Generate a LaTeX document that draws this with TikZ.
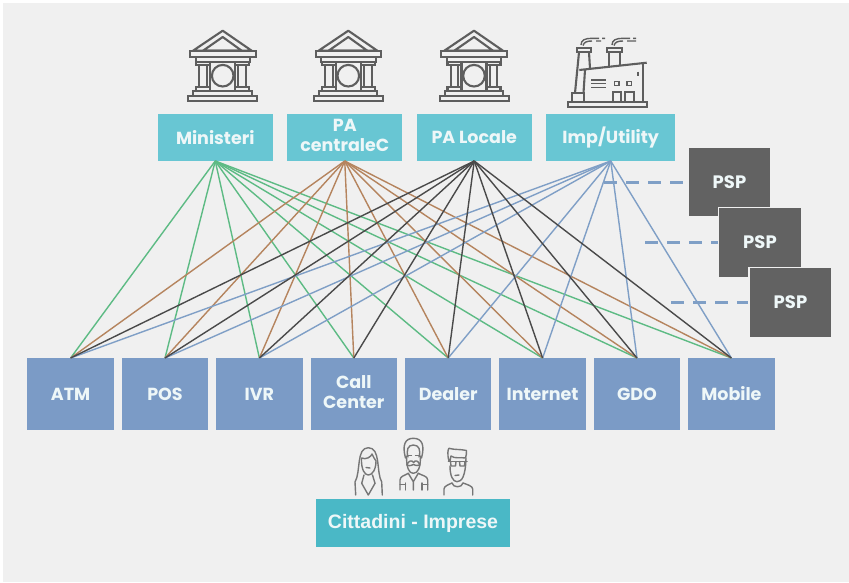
\documentclass[tikz,border=0pt]{standalone}
\usepackage{fontspec}
\setmainfont{Poppins}
\newfontfamily\citfont{Liberation Sans}
\usepackage{tikz}
\usetikzlibrary{matrix,positioning}

\definecolor{sfondo}{HTML}{F0F0F0}
\definecolor{ente}{HTML}{68C6D3}
\definecolor{canale}{HTML}{7B9BC6}
\definecolor{scuro}{HTML}{626262}
\definecolor{cit}{HTML}{4AB8C6}
\definecolor{verde}{HTML}{5DBB84}
\definecolor{marrone}{HTML}{B5845E}
\definecolor{nero}{HTML}{4A4A4A}
\definecolor{azzurro}{HTML}{7F9FC6}
\definecolor{icona}{HTML}{5E5E5E}
\definecolor{testo}{HTML}{EEF7F8}

\newcommand{\duerighe}[2]{\begin{tabular}{@{}c@{}}#1\\#2\end{tabular}}

\tikzset{
  ente/.style={fill=ente,text=testo,font=\bfseries\fontsize{17.5}{20.5}\selectfont,minimum height=47pt,inner sep=0pt,outer sep=0pt,anchor=center},
  canale/.style={fill=canale,text=testo,font=\bfseries\fontsize{17.5}{20}\selectfont,minimum width=86.5pt,minimum height=72pt,inner sep=0pt,outer sep=0pt,anchor=center},
  psp/.style={fill=scuro,draw=sfondo,line width=1.5pt,text=testo,font=\bfseries\fontsize{18}{20}\selectfont,minimum width=83pt,minimum height=70pt,inner sep=0pt},
  filo/.style={line width=1.4pt},
  tratto/.style={draw=azzurro,line width=3pt,dash pattern=on 13pt off 9pt},
  segno/.style={draw=icona,line width=2.1pt},
  volto/.style={draw=icona!85,line width=1.4pt,line cap=round,line join=round},
  tempio/.pic={
    \draw[segno,line join=round] (0,-34.3) -- (-29.7,-14.3) -- (29,-14.3) -- cycle;
    \draw[segno,line join=round] (0,-28) -- (-19.7,-14.3) -- (19,-14.3) -- cycle;
    \draw[segno] (-32.7,-14.3) rectangle (33,-7.7);
    \draw[segno] (-27,-7.7) -- (-27,-3.3) -- (27.3,-3.3) -- (27.3,-7.7);
    \foreach \x in {-19.5,19.5}{
      \draw[segno] (\x-7,-3.3) rectangle (\x+7,0);
      \draw[segno] (\x-3.8,0) rectangle (\x+3.8,21.7);
      \draw[segno] (\x-7,21.7) rectangle (\x+7,26);
    }
    \draw[segno] (0,10.7) circle (10.8);
    \draw[segno] (-12.5,-3.3) -- (-12.5,26);
    \draw[segno] (12.5,-3.3) -- (12.5,26);
    \draw[segno] (-29.4,31) -- (-29.4,26) -- (29,26) -- (29,31);
    \draw[segno] (-34.4,31) rectangle (34.6,35.7);
  }
}

\begin{document}
\begin{tikzpicture}[x=1pt,y=-1pt]
\useasboundingbox (0,0) rectangle (849,582);
\fill[sfondo] (3,3) rectangle (849,582);

\matrix (m) at (416.5,137.5) [matrix of nodes,column sep=14.5pt,inner sep=0pt,outer sep=0pt,nodes={ente}]
{
  |[minimum width=115pt]| Ministeri & |[minimum width=115pt]| \duerighe{PA}{centraleC} & |[minimum width=115pt]| PA Locale & |[minimum width=129pt]| Imp/Utility \\
};
\matrix (c) at (401,394) [matrix of nodes,column sep=7.9pt,inner sep=0pt,outer sep=0pt,nodes={canale}]
{
  ATM & POS & IVR & \duerighe{Call}{Center} & Dealer & Internet & GDO & Mobile \\
};

% fili enti - canali
\foreach \i in {1,...,8} \draw[filo,verde] (m-1-1.south) -- (c-1-\i.north);
\foreach \i in {1,...,8} \draw[filo,marrone] (m-1-2.south) -- (c-1-\i.north);
\foreach \i in {1,2,3,5,6,7,8} \draw[filo,azzurro] (m-1-4.south) -- (c-1-\i.north);
\foreach \i in {1,...,8} \draw[filo,nero] (m-1-3.south) -- (c-1-\i.north);

\coordinate (d1) at (604,182);
\coordinate (d2) at (645,242);
\coordinate (d3) at (671,302);
\draw[tratto] (d1) -- (688,182);
\draw[tratto] (d2) -- (718,242);
\draw[tratto] (d3) -- (748,302);
\node[psp] (p1) at (729.5,182) {PSP};
\node[psp] (p2) at (760,242.5) {PSP};
\node[psp] (p3) at (790.5,302.5) {PSP};

\node[fill=cit,text=testo,font=\citfont\bfseries\fontsize{19.5}{21}\selectfont,minimum width=194pt,minimum height=48pt,inner sep=0pt] (cittadini) at (413,523) {Cittadini - Imprese};

\pic at (222.7,65) {tempio};
\pic at (348.3,65) {tempio};
\pic at (474,65) {tempio};

% fabbrica
\draw[segno] (567.7,102.3) rectangle (647.3,106.7);
\draw[segno] (576.7,48.3) rectangle (590.7,52.3);
\draw[segno] (607.3,48.3) rectangle (621.7,52.3);
\draw[segno] (579,52.3) -- (575,93);
\draw[segno] (589,52.3) -- (590,68.5);
\draw[segno] (609,52.3) -- (609,66.5);
\draw[segno] (620,52.3) -- (620,65.5);
\draw[segno] (579.3,70) -- (646.7,62.7);
\draw[segno] (642.7,64) -- (642.7,102.3);
\draw[segno] (585,70) -- (583.5,93);
\draw[segno] (571.7,93.3) rectangle (584,102.3);
\foreach \y in {80,83.6,87.3} \draw[segno,line width=1.2pt] (591,\y) -- (606,\y);
\draw[segno,line width=1.4pt] (614.5,81.7) rectangle (619,85.7);
\draw[segno,line width=1.4pt] (627,81.7) rectangle (631.5,85.7);
\draw[segno] (613.3,102.3) -- (613.3,91.7) -- (621,91.7) -- (621,102.3);
\draw[segno] (625,102.3) -- (625,91.7) -- (634,91.7) -- (634,102.3);
\draw[segno] (638.3,71.7) -- (638.3,76);
\draw[segno,line width=1.4pt] (581,45) .. controls (581,40) and (585,38.3) .. (592,38.3) -- (599,38.3) (602,38.3) -- (605,38.3);
\draw[segno,line width=1.4pt] (583,45.5) .. controls (584,42) and (587,41) .. (592,41) (596,41) -- (601,41);
\draw[segno,line width=1.4pt] (612,45) .. controls (612,40) and (616,38.3) .. (623,38.3) -- (630,38.3) (633,38.3) -- (636,38.3);
\draw[segno,line width=1.4pt] (614,45.5) .. controls (615,42) and (618,41) .. (623,41) (627,41) -- (636,41);

% donna
\draw[volto] (355.7,495) -- (355,482) .. controls (361,472) and (356,447.7) .. (368.3,447.7) .. controls (381,447.7) and (376,472) .. (381.7,482) -- (382.3,495);
\draw[volto] (361.5,458) .. controls (366,460) and (371,457) .. (372,454) .. controls (373,457) and (375,459) .. (376,461) .. controls (376,470) and (372,475) .. (368.3,475) .. controls (365,475) and (361,470) .. (361.5,458);
\draw[volto] (361.7,483.3) -- (368.3,495) -- (375,483.3);
\draw[volto] (361.7,483.3) -- (364,475) (375,483.3) -- (372.5,475);
\draw[volto] (366,467.5) -- (370,468);
% uomo
\draw[volto] (405.5,458) .. controls (402,445) and (405,438.3) .. (413.3,438.3) .. controls (422,438.3) and (425,445) .. (421.5,458);
\draw[volto] (408,457) .. controls (406,450) and (408,445) .. (413.3,445) .. controls (419,445) and (421,450) .. (419,457);
\draw[volto] (406.5,456) .. controls (406.5,468) and (409,473.3) .. (413.3,473.3) .. controls (418,473.3) and (420.5,468) .. (420.5,456);
\draw[volto] (406.7,465) .. controls (409,460) and (412,460) .. (413.5,462.5) .. controls (415,460) and (418,460) .. (420,465) .. controls (417,466.5) and (415,465) .. (413.5,464.5) .. controls (412,465) and (410,466.5) .. (406.7,465);
\draw[volto] (408.5,455.5) -- (411.5,455.5) (415.5,455.5) -- (418.5,455.5);
\draw[volto] (400,490) -- (400,480) .. controls (400,476) and (405,475.5) .. (408.3,473.3) (427.7,490) -- (427.7,480) .. controls (427.7,476) and (422,475.5) .. (418.3,473.3);
\draw[volto] (408.3,473.3) -- (413.3,481.7) -- (418.3,473.3) (413.3,481.7) -- (413.3,490);
\draw[volto] (405.5,483) -- (405.5,490) (422,483) -- (422,490) (400,484.5) -- (405.5,484.5) (422,484.5) -- (427.7,484.5);
% ragazzo
\draw[volto] (449,461) .. controls (447,454) and (448,449) .. (449,448.3) .. controls (455,450) and (460,449) .. (466.5,450.5) .. controls (467,453) and (466,455) .. (465.5,458) .. controls (460,457) and (455,459) .. (451,456) -- (450,461);
\draw[volto] (450,466) .. controls (450,476) and (453,481.7) .. (457,481.7) .. controls (462,481.7) and (465.5,476) .. (466,458);
\draw[volto,line width=1.6pt] (448.5,461.5) -- (467,461.5);
\draw[volto] (450.5,461.5) -- (451,466) -- (455.5,466) -- (456,461.5) (459.5,461.5) -- (460,466) -- (464.5,466) -- (465,461.5);
\draw[volto] (444,495) -- (444,489) .. controls (444,486) and (449,484.5) .. (452,483) (472.7,495) -- (472.7,489) .. controls (472.7,486) and (467,484.5) .. (463,483);
\draw[volto] (452,483) .. controls (453,488) and (462,488) .. (463,483);
\draw[volto] (455,475.5) -- (459,475);
\end{tikzpicture}
\end{document}
